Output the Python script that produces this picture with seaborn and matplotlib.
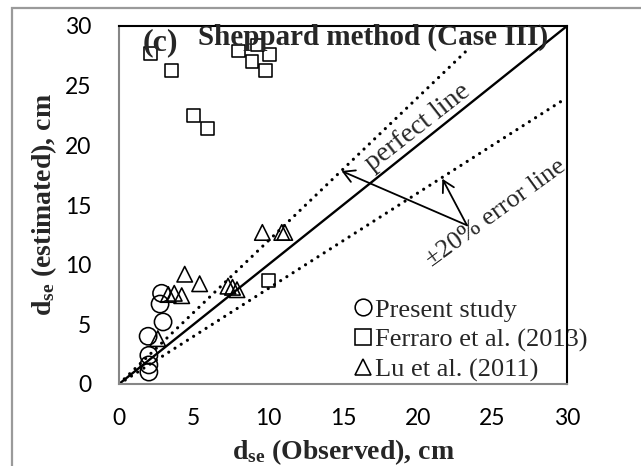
import numpy as np
import pandas as pd
import matplotlib
matplotlib.use("Agg")
import matplotlib.pyplot as plt
from matplotlib.lines import Line2D
from matplotlib.patches import FancyArrowPatch, Rectangle
import seaborn as sns

# --- data -------------------------------------------------------------
present_obs = [2.85, 2.75, 2.95, 1.95, 2.0, 2.0, 2.0]
present_est = [7.6, 6.7, 5.2, 4.0, 2.4, 1.6, 1.0]

ferraro_obs = [2.1, 3.5, 5.0, 5.9, 8.0, 8.9, 9.3, 9.8, 10.1, 10.0]
ferraro_est = [27.7, 26.3, 22.5, 21.4, 27.9, 27.0, 28.4, 26.3, 27.6, 8.7]

lu_obs = [4.4, 5.4, 3.3, 3.7, 4.2, 2.6, 7.3, 7.6, 7.9, 9.6, 10.9, 11.1]
lu_est = [9.2, 8.4, 7.5, 7.6, 7.4, 3.8, 8.2, 8.1, 7.9, 12.7, 12.7, 12.7]

series_names = ["Present study", "Ferraro et al. (2013)", "Lu et al. (2011)"]
axis_ticks = [0, 5, 10, 15, 20, 25, 30]
error_band = 0.20

df = pd.DataFrame({
    "obs": present_obs + ferraro_obs + lu_obs,
    "est": present_est + ferraro_est + lu_est,
    "source": ([series_names[0]] * len(present_obs)
               + [series_names[1]] * len(ferraro_obs)
               + [series_names[2]] * len(lu_obs)),
})

# --- style ------------------------------------------------------------
sns.set_style("white")
plt.rcParams["font.family"] = ["Liberation Serif", "DejaVu Serif"]
plt.rcParams["mathtext.fontset"] = "custom"
plt.rcParams["mathtext.rm"] = "Liberation Serif"
plt.rcParams["mathtext.bf"] = "Liberation Serif:bold"
plt.rcParams["mathtext.it"] = "Liberation Serif:italic"

SERIF = "Liberation Serif"
SANS = "Lato"
AXIS_GREY = "#868686"

fig = plt.figure(figsize=(6.41, 4.66), dpi=100)
ax = fig.add_axes([119 / 641, 1 - 384 / 466, 448 / 641, 358 / 466])

# outer frame of the figure; its right and bottom edges run off the canvas
frame_x, frame_y = 11.5 / 641, 1 - 7.5 / 466
fig.add_artist(Rectangle((frame_x, -0.2), 2.0, frame_y + 0.2,
                         transform=fig.transFigure, fill=False,
                         edgecolor="#9a9a9a", lw=1.6, zorder=0))

# --- reference lines -------------------------------------------------
line_x = np.array([0.0, 30.0])
ax.plot(line_x, line_x, color="black", lw=1.7, zorder=2)
upper_end = 23.5
lower_end = 29.7
ax.plot([0, upper_end], [0, (1 + error_band) * upper_end], color="black",
        lw=2.3, linestyle=(0, (0.01, 2.3)), dash_capstyle="round", zorder=2)
ax.plot([0, lower_end], [0, (1 - error_band) * lower_end], color="black",
        lw=2.3, linestyle=(0, (0.01, 2.3)), dash_capstyle="round", zorder=2)

# --- scatter ----------------------------------------------------------
marker_map = {series_names[0]: "o", series_names[1]: "s", series_names[2]: "^"}
size_map = {series_names[0]: 155, series_names[1]: 85, series_names[2]: 125}
for name in series_names:
    sub = df[df["source"] == name]
    sns.scatterplot(data=sub, x="obs", y="est", marker=marker_map[name],
                    s=size_map[name], color="black", linewidth=1.15,
                    legend=False, ax=ax, zorder=3)
for coll in ax.collections:
    coll.set_facecolor("none")
    coll.set_edgecolor("black")

# --- axes -------------------------------------------------------------
ax.set_xlim(0, 30)
ax.set_ylim(0, 30)
ax.set_xticks(axis_ticks)
ax.set_yticks(axis_ticks)
ax.set_xticklabels([str(t) for t in axis_ticks], fontfamily=SANS, fontsize=16.5)
ax.set_yticklabels([str(t) for t in axis_ticks], fontfamily=SANS, fontsize=16.5)
ax.tick_params(axis="both", direction="out", length=6.5, width=1.5,
               color=AXIS_GREY, labelcolor="black")
ax.tick_params(axis="y", pad=13.5)
ax.tick_params(axis="x", pad=11)
for side in ("left", "bottom"):
    ax.spines[side].set_color(AXIS_GREY)
    ax.spines[side].set_linewidth(1.5)
for side in ("top", "right"):
    ax.spines[side].set_color("black")
    ax.spines[side].set_linewidth(1.5)
    ax.spines[side].set_visible(True)

ax.set_xlabel(r"$\mathbf{d}_{\mathbf{se}}$ (Observed), cm", fontsize=20,
              fontweight="bold", fontfamily=SERIF)
ax.set_ylabel(r"$\mathbf{d}_{\mathbf{se}}$ (estimated), cm", fontsize=20,
              fontweight="bold", fontfamily=SERIF)
ax.xaxis.set_label_coords(0.5, -0.148)
ax.yaxis.set_label_coords(-0.135, 0.5)

# --- panel title ------------------------------------------------------
ax.text(1.6, 28.0, "(c)", fontsize=23, fontweight="bold", fontfamily=SERIF,
        ha="left", va="baseline", zorder=4)
ax.text(5.3, 28.4, "Sheppard method (Case III)", fontsize=21,
        fontweight="bold", fontfamily=SERIF, ha="left", va="baseline", zorder=4)

# --- annotations ------------------------------------------------------
ax.text(20.0, 21.5, "perfect line", fontsize=20, fontfamily=SERIF,
        rotation=38, ha="center", va="center", zorder=4)
ax.text(25.25, 14.3, "\u00b120% error line", fontsize=19, fontfamily=SERIF,
        rotation=36, ha="center", va="center", zorder=4)
tail = (23.3, 13.3)
for head in [(14.9, 17.85), (21.65, 17.2)]:
    ax.add_patch(FancyArrowPatch(tail, head,
                                 arrowstyle="->,head_length=8,head_width=4.5",
                                 color="black", lw=1.3, shrinkA=0, shrinkB=0,
                                 zorder=4))

# --- legend -----------------------------------------------------------
handles = [
    Line2D([], [], ls="none", marker="o", ms=12, mfc="none", mec="black", mew=1.15),
    Line2D([], [], ls="none", marker="s", ms=11, mfc="none", mec="black", mew=1.15),
    Line2D([], [], ls="none", marker="^", ms=12, mfc="none", mec="black", mew=1.15),
]
leg = ax.legend(handles, series_names, loc="center left",
                bbox_to_anchor=(0.528, 0.123), frameon=False, borderpad=0,
                borderaxespad=0, handlelength=0.6, handletextpad=0.15,
                labelspacing=0.235, prop={"family": SERIF, "size": 19})
leg.set_zorder(2)

fig.savefig("out.png", dpi=100)
